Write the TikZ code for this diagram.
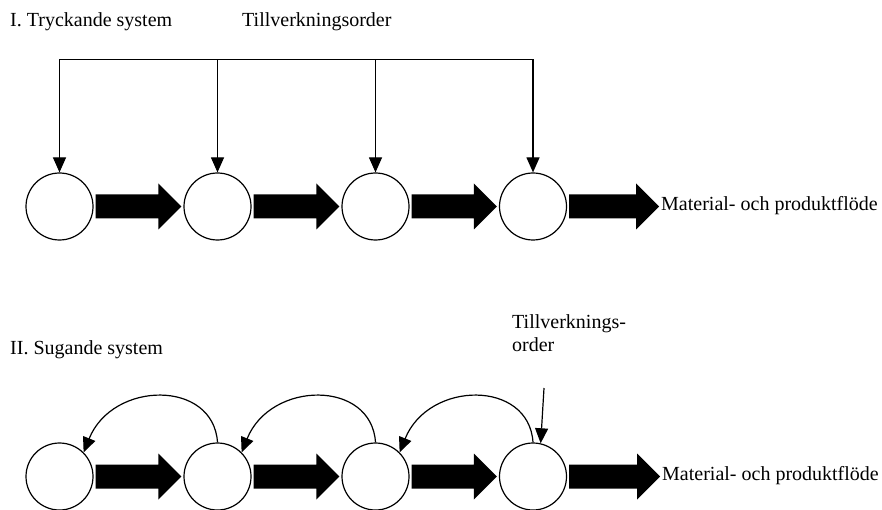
\documentclass[tikz,border=0pt]{standalone}
\usepackage{fontspec}
\setmainfont{Liberation Serif}
\usetikzlibrary{arrows.meta,calc}

% thick block arrow between two points (start, tip)
\newcommand\flowarrow[2]{%
  \fill let \p1=($(#1)+(2,0)$), \p2=($(#2)+(-2,0)$) in
    (\x1,\y1+12pt) -- (\x2-23pt,\y1+12pt) -- (\x2-23pt,\y1+23pt) -- (\x2,\y1)
    -- (\x2-23pt,\y1-23pt) -- (\x2-23pt,\y1-12pt) -- (\x1,\y1-12pt) -- cycle;}

\begin{document}
\begin{tikzpicture}[x=1pt,y=-1pt,
  station/.style={circle,draw,line width=1.2pt,minimum size=67pt,inner sep=0pt},
  lbl/.style={inner sep=0pt,anchor=base west,font=\fontsize{20}{22.5}\selectfont},
  order/.style={line width=1.2pt,-{Triangle[length=15pt,width=13pt]}},
  line/.style={line width=1.2pt}]
\useasboundingbox (0,0) rectangle (882,510);

% ---- I. push system ----
\node[lbl] (tpush) at (10,27) {I. Tryckande system};
\node[lbl] (tord1) at (242,27) {Tillverkningsorder};

\node[station] (a1) at (59.5,206.5) {};
\node[station] (a2) at (217.5,206.5) {};
\node[station] (a3) at (375.5,206.5) {};
\node[station] (a4) at (533,206.5) {};
\coordinate (bus) at (0,59.5);

\draw[line] (a1.north |- bus) -- (a4.north |- bus);
\foreach \n in {a1,a2,a3,a4}
  \draw[order] (\n.north |- bus) -- (\n.north);

\flowarrow{a1.east}{a2.west}
\flowarrow{a2.east}{a3.west}
\flowarrow{a3.east}{a4.west}
\node[lbl,anchor=west] (fa) at (661,206) {Material- och produktflöde};
\flowarrow{a4.east}{fa.west}

% ---- II. pull system ----
\node[lbl] (tpull) at (10,354) {II. Sugande system};
\node[lbl,align=left,anchor=north west,text width=120pt] (tord2) at (512,314.5)
  {Tillverknings-\\order};

\node[station] (b1) at (59.5,476.5) {};
\node[station] (b2) at (217.5,476.5) {};
\node[station] (b3) at (375.5,476.5) {};
\node[station] (b4) at (533,476.5) {};

\draw[order] (b2.north) .. controls +(-4,-63) and +(29,-72) .. (b1.45);
\draw[order] (b3.north) .. controls +(-4,-63) and +(29,-72) .. (b2.45);
\draw[order] (b4.north) .. controls +(-4,-63) and +(29,-72) .. (b3.45);

\coordinate (o2) at (544,388);
\draw[order] (o2) -- (b4.77);

\flowarrow{b1.east}{b2.west}
\flowarrow{b2.east}{b3.west}
\flowarrow{b3.east}{b4.west}
\node[lbl,anchor=west] (fb) at (662,476) {Material- och produktflöde};
\flowarrow{b4.east}{fb.west}
\end{tikzpicture}
\end{document}
